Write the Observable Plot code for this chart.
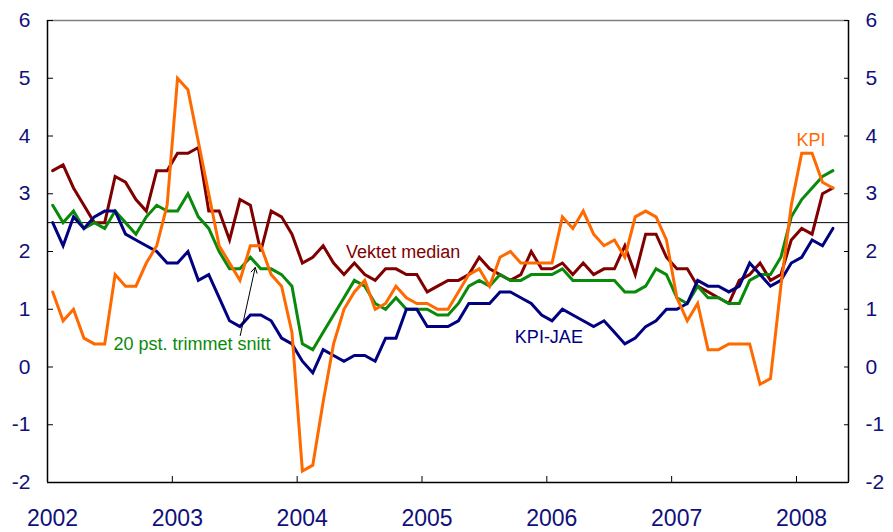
<!DOCTYPE html>
<html>
<head>
<meta charset="utf-8">
<script src="https://cdn.jsdelivr.net/npm/d3@7"></script>
<script src="https://cdn.jsdelivr.net/npm/@observablehq/plot@0.6"></script>
<style>
  html, body { margin: 0; padding: 0; background: #ffffff; }
  #chart svg { display: block; }
</style>
</head>
<body>
<div id="chart"></div>
<script>
// ---- data (monthly, Jan 2002 – Apr 2008, 12-month change in %) ----
const startYear = 2002;
const yearTicks = [2002, 2003, 2004, 2005, 2006, 2007, 2008];
const valueTicks = [-2, -1, 0, 1, 2, 3, 4, 5, 6];
const targetLevel = 2.5;

const kpi = [
  1.3, 0.8, 1.0, 0.5, 0.4, 0.4, 1.6, 1.4, 1.4, 1.8, 2.1, 2.8,
  5.0, 4.8, 3.9, 3.0, 2.1, 1.8, 1.5, 2.1, 2.1, 1.6, 1.4, 0.6,
  -1.8, -1.7, -0.6, 0.4, 1.0, 1.3, 1.5, 1.0, 1.1, 1.4, 1.2, 1.1,
  1.1, 1.0, 1.0, 1.3, 1.6, 1.7, 1.4, 1.9, 2.0, 1.8, 1.8, 1.8,
  1.8, 2.6, 2.4, 2.7, 2.3, 2.1, 2.2, 1.9, 2.6, 2.7, 2.6, 2.2,
  1.2, 0.8, 1.1, 0.3, 0.3, 0.4, 0.4, 0.4, -0.3, -0.2, 1.4, 2.8,
  3.7, 3.7, 3.2, 3.1
];
const kpiJae = [
  2.5, 2.1, 2.6, 2.4, 2.6, 2.7, 2.7, 2.3, 2.2, 2.1, 2.0, 1.8,
  1.8, 2.0, 1.5, 1.6, 1.2, 0.8, 0.7, 0.9, 0.9, 0.8, 0.5, 0.4,
  0.1, -0.1, 0.3, 0.2, 0.1, 0.2, 0.2, 0.1, 0.5, 0.5, 1.0, 1.0,
  0.7, 0.7, 0.7, 0.8, 1.1, 1.1, 1.1, 1.3, 1.3, 1.2, 1.1, 0.9,
  0.8, 1.0, 0.9, 0.8, 0.7, 0.8, 0.6, 0.4, 0.5, 0.7, 0.8, 1.0,
  1.0, 1.1, 1.5, 1.4, 1.4, 1.3, 1.4, 1.8, 1.6, 1.4, 1.5, 1.8,
  1.9, 2.2, 2.1, 2.4
];
const vektetMedian = [
  3.4, 3.5, 3.1, 2.8, 2.5, 2.5, 3.3, 3.2, 2.9, 2.7, 3.4, 3.4,
  3.7, 3.7, 3.8, 2.7, 2.7, 2.2, 2.9, 2.8, 2.0, 2.7, 2.6, 2.3,
  1.8, 1.9, 2.1, 1.8, 1.6, 1.8, 1.6, 1.5, 1.7, 1.7, 1.6, 1.6,
  1.3, 1.4, 1.5, 1.5, 1.6, 1.9, 1.7, 1.6, 1.5, 1.6, 2.0, 1.7,
  1.7, 1.8, 1.6, 1.8, 1.6, 1.7, 1.7, 2.1, 1.6, 2.3, 2.3, 1.9,
  1.7, 1.7, 1.4, 1.3, 1.2, 1.1, 1.5, 1.6, 1.8, 1.5, 1.6, 2.2,
  2.4, 2.3, 3.0, 3.1
];
const trimmetSnitt = [
  2.8, 2.5, 2.7, 2.4, 2.5, 2.4, 2.7, 2.5, 2.3, 2.6, 2.8, 2.7,
  2.7, 3.0, 2.6, 2.4, 2.0, 1.7, 1.7, 1.9, 1.7, 1.7, 1.6, 1.4,
  0.4, 0.3, 0.6, 0.9, 1.2, 1.5, 1.4, 1.1, 1.0, 1.2, 1.0, 1.0,
  1.0, 0.9, 0.9, 1.1, 1.4, 1.5, 1.4, 1.6, 1.5, 1.5, 1.6, 1.6,
  1.6, 1.7, 1.5, 1.5, 1.5, 1.5, 1.5, 1.3, 1.3, 1.4, 1.7, 1.6,
  1.2, 1.1, 1.4, 1.2, 1.2, 1.1, 1.1, 1.5, 1.6, 1.6, 1.9, 2.6,
  2.9, 3.1, 3.3, 3.4
];
const seriesNames = ["Vektet median", "20 pst. trimmet snitt", "KPI-JAE", "KPI"];
const seriesValues = [vektetMedian, trimmetSnitt, kpiJae, kpi];

// ---- styling ----
const colors = ["#800000", "#0a8a0a", "#000080", "#ff6a00"];
const axisColor = "#10107a";
const font = "'Liberation Sans', Arial, sans-serif";
const xEnd = 2008 + 5 / 12;

const rows = seriesNames.flatMap((name, s) =>
  seriesValues[s].map((v, i) => ({series: name, t: startYear + (i + 0.5) / 12, v}))
);

const annotations = [
  {text: "Vektet median", t: 2004.392, v: 1.896, color: colors[0]},
  {text: "20 pst. trimmet snitt", t: 2002.528, v: 0.286, color: colors[1]},
  {text: "KPI-JAE", t: 2005.744, v: 0.407, color: colors[2]},
  {text: "KPI", t: 2008.0, v: 3.835, color: colors[3]}
];
const arrowSpec = [{x1: 2003.544, y1: 0.545, x2: 2003.664, y2: 1.723}];

const chart = Plot.plot({
  width: 893,
  height: 532,
  marginTop: 20,
  marginRight: 45,
  marginBottom: 50,
  marginLeft: 47,
  style: {fontFamily: font, background: "#ffffff"},
  x: {domain: [startYear, xEnd]},
  y: {domain: [-2, 6]},
  color: {domain: seriesNames, range: colors},
  marks: [
    Plot.ruleY([targetLevel], {stroke: "#000000", strokeWidth: 1}),
    Plot.line(rows, {x: "t", y: "v", z: "series", stroke: "series", strokeWidth: 3, strokeLinejoin: "miter", strokeMiterlimit: 4}),
    Plot.ruleY([6], {stroke: "#808080", strokeWidth: 1.5}),
    Plot.ruleY([-2], {stroke: "#000000", strokeWidth: 1.5}),
    Plot.ruleX([startYear, xEnd], {stroke: "#000000", strokeWidth: 1.5}),
    // ticks (inward)
    Plot.axisX({ticks: yearTicks, tickSize: -6, tickFormat: () => "", stroke: "#000000", label: null}),
    Plot.axisY({anchor: "left", ticks: valueTicks, tickSize: -6, tickFormat: () => "", stroke: "#000000", label: null}),
    Plot.axisY({anchor: "right", ticks: valueTicks, tickSize: -5, tickFormat: () => "", stroke: "#000000", label: null}),
    // labels
    Plot.axisX({ticks: yearTicks, tickSize: 0, tickPadding: 27, dx: 5, fontSize: 23, fill: axisColor, tickFormat: d => String(d), label: null}),
    Plot.axisY({anchor: "left", ticks: valueTicks, tickSize: 0, tickPadding: 17, fontSize: 21, fill: axisColor, tickFormat: d => String(d), label: null}),
    Plot.axisY({anchor: "right", ticks: valueTicks, tickSize: 0, tickPadding: 17, fontSize: 21, fill: axisColor, tickFormat: d => String(d), label: null}),
    // annotations
    Plot.text(annotations, {x: "t", y: "v", text: "text", fill: d => d.color, textAnchor: "start", lineAnchor: "bottom", fontSize: 18}),
    Plot.arrow(arrowSpec, {x1: "x1", y1: "y1", x2: "x2", y2: "y2", stroke: "#000000", strokeWidth: 1, headLength: 9})
  ]
});
document.getElementById("chart").appendChild(chart);
</script>
</body>
</html>
